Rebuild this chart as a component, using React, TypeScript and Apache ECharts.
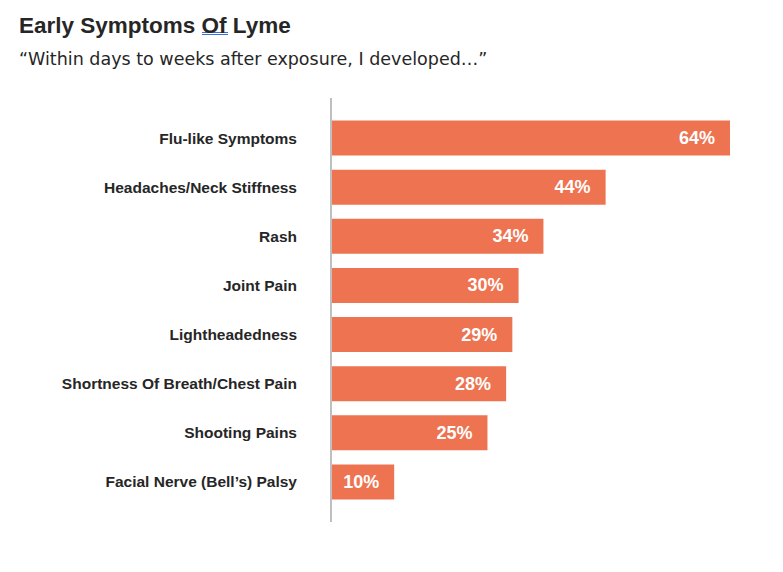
import React, { useEffect, useRef } from "react";
import * as echarts from "echarts";

const categories = [
  "Flu-like Symptoms",
  "Headaches/Neck Stiffness",
  "Rash",
  "Joint Pain",
  "Lightheadedness",
  "Shortness Of Breath/Chest Pain",
  "Shooting Pains",
  "Facial Nerve (Bell’s) Palsy",
];
const values = [64, 44, 34, 30, 29, 28, 25, 10];

const titleText = "Early Symptoms Of Lyme";
const subtitleText = "“Within days to weeks after exposure, I developed…”";

export default function App() {
  const ref = useRef<HTMLDivElement>(null);
  useEffect(() => {
    document.body.style.margin = "0";
    const chart = echarts.init(ref.current!, null, { renderer: "svg" });
    const cats = [...categories].reverse();
    const vals = [...values].reverse();
    chart.setOption({
      animation: false,
      backgroundColor: "#ffffff",
      title: [
        {
          text: titleText,
          left: 19,
          top: 14,
          padding: 0,
          textStyle: {
            fontFamily: "Liberation Sans, Arial, sans-serif",
            fontSize: 22.5,
            fontWeight: "bold",
            color: "#262626",
          },
        },
        {
          text: subtitleText,
          left: 19,
          top: 50,
          padding: 0,
          textStyle: {
            fontFamily: "DejaVu Sans, Verdana, sans-serif",
            fontSize: 17.5,
            fontWeight: "normal",
            color: "#262626",
          },
        },
      ],
      grid: { left: 332, width: 398, top: 113.5, height: 393, containLabel: false },
      xAxis: {
        type: "value",
        min: 0,
        max: 64,
        show: false,
      },
      yAxis: {
        type: "category",
        data: cats,
        axisLine: { show: false },
        axisTick: { show: false },
        axisLabel: {
          margin: 35,
          fontFamily: "Liberation Sans, Arial, sans-serif",
          fontSize: 15.5,
          fontWeight: "bold",
          color: "#262626",
        },
      },
      series: [
        {
          type: "bar",
          data: vals,
          barWidth: 35,
          itemStyle: { color: "#EE7351" },
          label: {
            show: true,
            position: "insideRight",
            distance: 15,
            formatter: "{c}%",
            fontFamily: "Liberation Sans, Arial, sans-serif",
            fontSize: 18,
            fontWeight: "bold",
            color: "#ffffff",
          },
        },
      ],
      graphic: [
        {
          type: "line",
          shape: { x1: 331, y1: 98, x2: 331, y2: 522 },
          style: { stroke: "#BFBFBF", lineWidth: 2 },
          z: 10,
        },
        {
          type: "line",
          shape: { x1: 202, y1: 32.5, x2: 228, y2: 32.5 },
          style: { stroke: "#3B6FD6", lineWidth: 1 },
        },
        {
          type: "line",
          shape: { x1: 202, y1: 34.5, x2: 228, y2: 34.5 },
          style: { stroke: "#3B6FD6", lineWidth: 1 },
        },
      ],
    });
    return () => chart.dispose();
  }, []);
  return <div ref={ref} style={{ width: 783, height: 572 }} />;
}
